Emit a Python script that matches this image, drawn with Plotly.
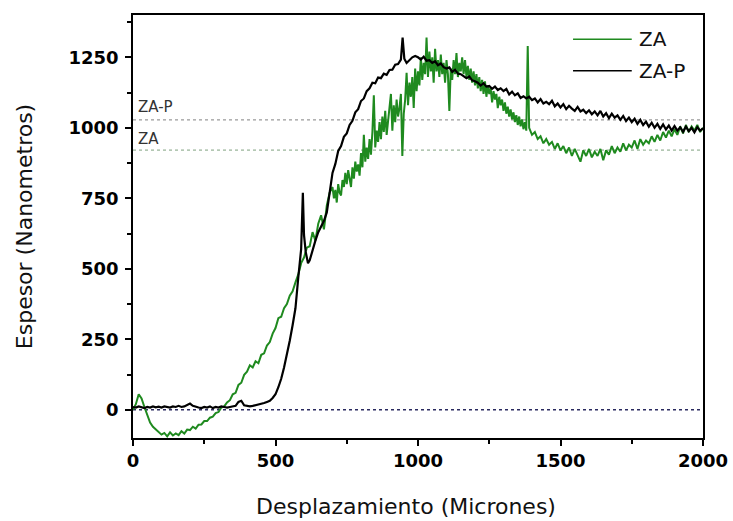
import plotly.graph_objects as go

# ---- data ----
za_x = [0, 10, 20, 30, 40, 50, 60, 70, 80, 90,
        100, 110, 120, 130, 140, 150, 160, 170, 180, 190,
        200, 210, 220, 230, 240, 250, 260, 270, 280, 290,
        300, 310, 320, 330, 340, 350, 360, 370, 380, 390,
        400, 410, 420, 430, 440, 450, 460, 470, 480, 490,
        500, 510, 520, 530, 540, 550, 560, 570, 580, 590,
        600, 610, 620, 630, 640, 650, 660, 670, 680, 690,
        700, 705, 710, 715, 720, 725, 730, 735, 740, 745,
        750, 755, 760, 765, 770, 775, 780, 785, 790, 795,
        800, 805, 810, 815, 820, 825, 830, 835, 840, 845,
        850, 855, 860, 865, 870, 875, 880, 885, 890, 895,
        900, 905, 910, 915, 920, 925, 930, 935, 940, 945,
        950, 955, 960, 965, 970, 975, 980, 985, 990, 995,
        1000, 1005, 1010, 1015, 1020, 1025, 1030, 1035, 1040, 1045,
        1050, 1055, 1060, 1065, 1070, 1075, 1080, 1085, 1090, 1095,
        1100, 1105, 1110, 1115, 1120, 1125, 1130, 1135, 1140, 1145,
        1150, 1155, 1160, 1165, 1170, 1175, 1180, 1185, 1190, 1195,
        1200, 1205, 1210, 1215, 1220, 1225, 1230, 1235, 1240, 1245,
        1250, 1255, 1260, 1265, 1270, 1275, 1280, 1285, 1290, 1295,
        1300, 1305, 1310, 1315, 1320, 1325, 1330, 1335, 1340, 1345,
        1350, 1355, 1360, 1365, 1370, 1375, 1380, 1385, 1390, 1395,
        1400, 1410, 1420, 1430, 1440, 1450, 1460, 1470, 1480, 1490,
        1500, 1510, 1520, 1530, 1540, 1550, 1560, 1570, 1580, 1590,
        1600, 1610, 1620, 1630, 1640, 1650, 1660, 1670, 1680, 1690,
        1700, 1710, 1720, 1730, 1740, 1750, 1760, 1770, 1780, 1790,
        1800, 1810, 1820, 1830, 1840, 1850, 1860, 1870, 1880, 1890,
        1900, 1910, 1920, 1930, 1940, 1950, 1960, 1970, 1980, 1990, 2000]
za_y = [0, 20, 55, 40, 10, -20, -45, -60, -70, -80,
        -88, -82, -94, -80, -91, -84, -90, -76, -84, -70,
        -72, -60, -67, -53, -52, -40, -40, -28, -24, -12,
        -8, 8, 12, 26, 34, 55, 60, 88, 96, 124,
        135, 158, 150, 172, 165, 195, 200, 228, 240, 270,
        290, 325, 330, 360, 375, 405, 420, 452, 480, 520,
        540, 575, 580, 630, 600, 660, 690, 640, 725, 770,
        790, 750, 780, 735, 800, 770, 760, 815, 790, 840,
        800, 850, 815, 790, 860, 820, 880, 845, 870, 830,
        910, 860, 975, 880, 930, 890, 960, 905, 985, 1115,
        930, 990, 950, 1020, 960, 1040, 985, 1060, 975, 1030,
        1070, 1120, 990, 1080, 1020, 1100, 1040, 1070, 1120, 900,
        1050, 1100, 1195, 1080, 1160, 1110, 1180, 1070, 1210, 1130,
        1200, 1150, 1250, 1170, 1230, 1190, 1320, 1180, 1270, 1200,
        1250, 1160, 1280, 1200, 1240, 1180, 1260, 1190, 1230, 1160,
        1240, 1190, 1060, 1210, 1170, 1240, 1190, 1265, 1180, 1230,
        1200, 1250, 1190, 1240, 1180, 1220, 1170, 1210, 1160, 1200,
        1150, 1190, 1140, 1180, 1130, 1170, 1120, 1165, 1110, 1150,
        1120, 1140, 1090, 1130, 1100, 1120, 1070, 1110, 1080, 1100,
        1060, 1090, 1050, 1075, 1040, 1065, 1030, 1055, 1020, 1045,
        1010, 1040, 1005, 1030, 995, 1020, 990, 1290, 1000, 985,
        975, 985, 960, 970, 945, 960, 940, 950, 925, 945,
        920, 935, 910, 930, 900, 925, 905, 880, 920, 900,
        925, 895, 915, 900, 925, 885, 920, 905, 935, 910,
        930, 915, 945, 920, 940, 930, 955, 925, 960, 940,
        955, 945, 970, 950, 975, 955, 985, 965, 990, 970,
        995, 975, 1005, 980, 1010, 985, 1005, 990, 1010, 985, 1000]

zap_x = [0, 10, 20, 30, 40, 50, 60, 70, 80, 90,
         100, 110, 120, 130, 140, 150, 160, 170, 180, 190,
         200, 210, 220, 230, 240, 250, 260, 270, 280, 290,
         300, 310, 320, 330, 340, 350, 360, 370, 380, 390,
         400, 410, 420, 430, 440, 450, 460, 470, 480, 490,
         500, 510, 520, 530, 540, 550, 560, 570, 580, 590,
         596, 600, 606, 614, 620, 630, 640, 650, 660, 670, 680, 690,
         700, 710, 720, 730, 740, 750, 760, 770, 780, 790,
         800, 810, 820, 830, 840, 850, 860, 870, 880, 890,
         900, 910, 920, 930, 940, 946, 952, 960, 970, 980, 990,
         1000, 1010, 1020, 1030, 1040, 1050, 1060, 1070, 1080, 1090,
         1100, 1110, 1120, 1130, 1140, 1150, 1160, 1170, 1180, 1190,
         1200, 1210, 1220, 1230, 1240, 1250, 1260, 1270, 1280, 1290,
         1300, 1310, 1320, 1330, 1340, 1350, 1360, 1370, 1380, 1390,
         1400, 1410, 1420, 1430, 1440, 1450, 1460, 1470, 1480, 1490,
         1500, 1510, 1520, 1530, 1540, 1550, 1560, 1570, 1580, 1590,
         1600, 1610, 1620, 1630, 1640, 1650, 1660, 1670, 1680, 1690,
         1700, 1710, 1720, 1730, 1740, 1750, 1760, 1770, 1780, 1790,
         1800, 1810, 1820, 1830, 1840, 1850, 1860, 1870, 1880, 1890,
         1900, 1910, 1920, 1930, 1940, 1950, 1960, 1970, 1980, 1990, 2000]
zap_y = [10, 8, 12, 10, 6, 10, 8, 12, 9, 11,
         8, 12, 10, 8, 12, 10, 14, 10, 12, 16,
         22, 14, 10, 8, 6, 10, 8, 12, 6, 10,
         8, 12, 10, 8, 10, 12, 14, 28, 32, 16,
         14, 12, 14, 16, 18, 20, 24, 28, 32, 42,
         55, 80, 110, 150, 195, 245, 300, 360, 470, 570,
         770, 620, 560, 520, 530, 570, 600, 630, 650, 670, 700, 770,
         840, 872, 918, 935, 968, 980, 1010, 1025, 1055, 1066,
         1095, 1104, 1130, 1140, 1160, 1158, 1178, 1176, 1192, 1188,
         1205, 1206, 1224, 1226, 1242, 1320, 1245, 1230, 1240, 1250, 1255,
         1250, 1242, 1252, 1238, 1240, 1230, 1236, 1222, 1228, 1215,
         1210, 1214, 1198, 1206, 1192, 1190, 1184, 1176, 1182, 1168,
         1165, 1160, 1150, 1158, 1146, 1148, 1138, 1146, 1134, 1140,
         1130, 1138, 1118, 1128, 1115, 1122, 1106, 1112, 1104, 1110,
         1098, 1104, 1090, 1102, 1086, 1092, 1084, 1096, 1076, 1086,
         1072, 1084, 1066, 1078, 1068, 1060, 1074, 1058, 1064, 1052,
         1062, 1048, 1058, 1044, 1060, 1040, 1052, 1034, 1050, 1036,
         1044, 1028, 1042, 1024, 1036, 1020, 1032, 1014, 1028, 1010,
         1022, 1004, 1018, 1000, 1014, 996, 1012, 994, 1008, 990,
         1006, 990, 1002, 986, 1004, 988, 1000, 984, 1002, 990, 998]

ref_levels = [1028, 921]          # ZA-P, ZA plateau levels
ref_labels = ["ZA-P", "ZA"]
series_names = ["ZA", "ZA-P"]
x_ticks = [0, 500, 1000, 1500, 2000]
y_ticks = [0, 250, 500, 750, 1000, 1250]
x_title = "Desplazamiento (Micrones)"
y_title = "Espesor (Nanometros)"

GREEN = "#1f8a1f"
BLACK = "#000000"
FONT = "DejaVu Sans, Liberation Sans, Arial, sans-serif"

fig = go.Figure()

# zero line and reference levels
fig.add_trace(go.Scatter(x=[0, 2000], y=[0, 0], mode="lines",
                         line=dict(color="#2b2b60", width=1.5, dash="dot"),
                         showlegend=False, hoverinfo="skip"))
fig.add_trace(go.Scatter(x=[0, 2000], y=[ref_levels[0]] * 2, mode="lines",
                         line=dict(color="#808080", width=1, dash="dot"),
                         showlegend=False, hoverinfo="skip"))
fig.add_trace(go.Scatter(x=[0, 2000], y=[ref_levels[1]] * 2, mode="lines",
                         line=dict(color="#7fa07f", width=1, dash="dot"),
                         showlegend=False, hoverinfo="skip"))

fig.add_trace(go.Scatter(x=za_x, y=za_y, mode="lines", name=series_names[0],
                         line=dict(color=GREEN, width=2), showlegend=False))
fig.add_trace(go.Scatter(x=zap_x, y=zap_y, mode="lines", name=series_names[1],
                         line=dict(color=BLACK, width=2.2), showlegend=False))

# reference-level labels
fig.add_annotation(x=12, y=1073, text=ref_labels[0], showarrow=False,
                   xanchor="left", yanchor="middle",
                   font=dict(family=FONT, size=15, color="#333333"))
fig.add_annotation(x=12, y=962, text=ref_labels[1], showarrow=False,
                   xanchor="left", yanchor="middle",
                   font=dict(family=FONT, size=15, color="#333333"))

# manual legend
leg = [(0.9426, GREEN, series_names[0]), (0.868, BLACK, series_names[1])]
for yy, col, name in leg:
    fig.add_shape(type="line", xref="paper", yref="paper",
                  x0=0.772, x1=0.875, y0=yy, y1=yy,
                  line=dict(color=col, width=1.5))
    fig.add_annotation(xref="paper", yref="paper", x=0.884, y=yy, text=name,
                       showarrow=False, xanchor="left", yanchor="middle",
                       font=dict(family=FONT, size=20, color="#111111"))

# x-axis title (placed as in the reference, slightly left of centre)
fig.add_annotation(xref="paper", yref="paper", x=0.479, y=-0.163, text=x_title,
                   showarrow=False, xanchor="center", yanchor="middle",
                   font=dict(family=FONT, size=22, color="#111111"))

axis_common = dict(showline=True, linecolor="black", linewidth=1.5, mirror=True,
                   ticks="outside", ticklen=6, tickwidth=1.5, tickcolor="black",
                   showgrid=False, zeroline=False,
                   tickfont=dict(family=FONT, size=18, color="black", weight="bold"))

fig.update_xaxes(range=[0, 2000], tickvals=x_ticks,
                 minor=dict(ticks="outside", ticklen=4, tickwidth=1.5,
                            tickcolor="black", dtick=250, tick0=0, showgrid=False),
                 **axis_common)
fig.update_yaxes(range=[-100, 1400], tickvals=y_ticks, ticklabelstandoff=3,
                 minor=dict(ticks="outside", ticklen=4, tickwidth=1.5,
                            tickcolor="black", dtick=125, tick0=0, showgrid=False),
                 title=dict(text=y_title, standoff=30,
                            font=dict(family=FONT, size=22, color="#111111")),
                 **axis_common)

fig.update_layout(width=733, height=521,
                  margin=dict(l=133, r=30, t=15, b=83, autoexpand=False),
                  plot_bgcolor="white", paper_bgcolor="white",
                  font=dict(family=FONT))

fig.write_html("out.html")
